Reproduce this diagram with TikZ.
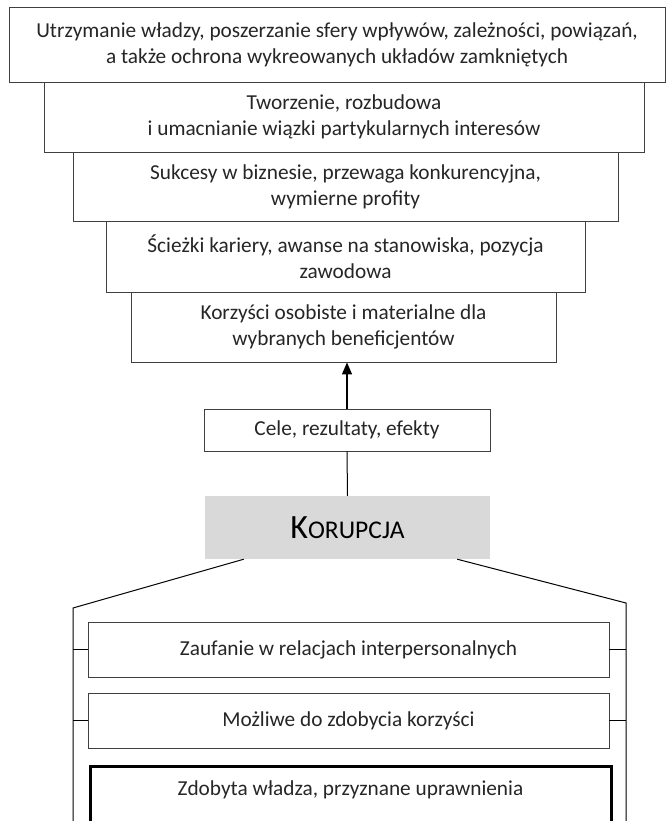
\documentclass[tikz,border=0pt]{standalone}
\usepackage{fontspec}
\setmainfont{Carlito}
\usepackage{xcolor}
\usetikzlibrary{
    arrows.meta,
    positioning,
    calc
}
\definecolor{boxline}{HTML}{404040}
\definecolor{inktext}{HTML}{262626}
\definecolor{corefill}{HTML}{D9D9D9}
\tikzset{
    % Pyramid tier style
    tierbox/.style={
        rectangle,
        minimum width=#1,
        minimum height=70pt,
        align=center,
        inner sep=0pt,
        font=\fontsize{21.3}{26}\selectfont,
        text=inktext,
        draw=boxline,
        fill=white,
        line width=0.9pt
    },
    % Condition box style
    factorbox/.style={
        rectangle,
        minimum width=521pt,
        minimum height=55pt,
        align=center,
        inner sep=0pt,
        font=\fontsize{21.3}{26}\selectfont,
        text=inktext,
        draw=boxline,
        line width=0.9pt
    },
    % Central box style
    corebox/.style={
        rectangle,
        minimum width=285pt,
        minimum height=63pt,
        fill=corefill,
        text=black,
        inner sep=0pt
    },
    % Arrow styles
    upflow/.style={
        -{Triangle[length=12pt, width=10pt]},
        line width=1.2pt,
        color=black
    },
    frame/.style={
        line width=1pt,
        color=black
    }
}

\begin{document}
\begin{tikzpicture}[x=1pt, y=-1pt]
    \useasboundingbox (0,0) rectangle (667,821);

    % Pyramid of results
    \node[tierbox=656pt, minimum height=75pt] (power) at (337,44.5)
        {Utrzymanie władzy, poszerzanie sfery wpływów, zależności, powiązań,\\a także ochrona wykreowanych układów zamkniętych};
    \node[tierbox=600pt] (interests) at (344,117)
        {Tworzenie, rozbudowa\\i umacnianie wiązki partykularnych interesów};
    \node[tierbox=545pt, minimum height=69pt] (business) at (345.5,186.5)
        {Sukcesy w biznesie, przewaga konkurencyjna,\\wymierne profity};
    \node[tierbox=479pt, minimum height=71pt] (career) at (345.5,256.5)
        {Ścieżki kariery, awanse na stanowiska, pozycja\\zawodowa};
    \node[tierbox=425pt] (benefits) at (343.5,327)
        {Korzyści osobiste i materialne dla\\wybranych beneficjentów};

    % Goals and core
    \node[tierbox=286pt, minimum height=42pt] (goals) at (347,430) {Cele, rezultaty, efekty};
    \node[corebox] (core) at (347.5,527.5)
        {{\fontsize{34}{34}\selectfont K}{\fontsize{25.5}{26}\selectfont ORUPCJA}};

    \draw[upflow] (goals.north) -- (goals.north |- benefits.south);
    \draw[frame] (goals.south) -- (core.north);

    % Roof and walls
    \coordinate (lbend) at (73,608);
    \coordinate (rbend) at (626,603);
    \coordinate (lfoot) at (73,830);
    \coordinate (rfoot) at (626,830);
    \draw[frame] ([xshift=39pt]core.south west) -- (lbend) -- (lfoot);
    \draw[frame] ([xshift=-33pt]core.south east) -- (rbend) -- (rfoot);

    % Conditions
    \node[factorbox] (trust) at (348.5,649.5) {Zaufanie w relacjach interpersonalnych};
    \node[factorbox] (gains) at (348.5,720.5) {Możliwe do zdobycia korzyści};
    \node[factorbox, anchor=north, minimum height=0pt, inner ysep=15pt,
          text height=14pt, text depth=60pt, line width=3pt, draw=black]
        (authority) at (350.5,764.5) {Zdobyta władza, przyznane uprawnienia};

    \foreach \fac in {trust, gains} {
        \draw[frame] (\fac.west) -- (\fac.west -| lbend);
        \draw[frame] (\fac.east) -- (\fac.east -| rbend);
    }

\end{tikzpicture}
\end{document}
